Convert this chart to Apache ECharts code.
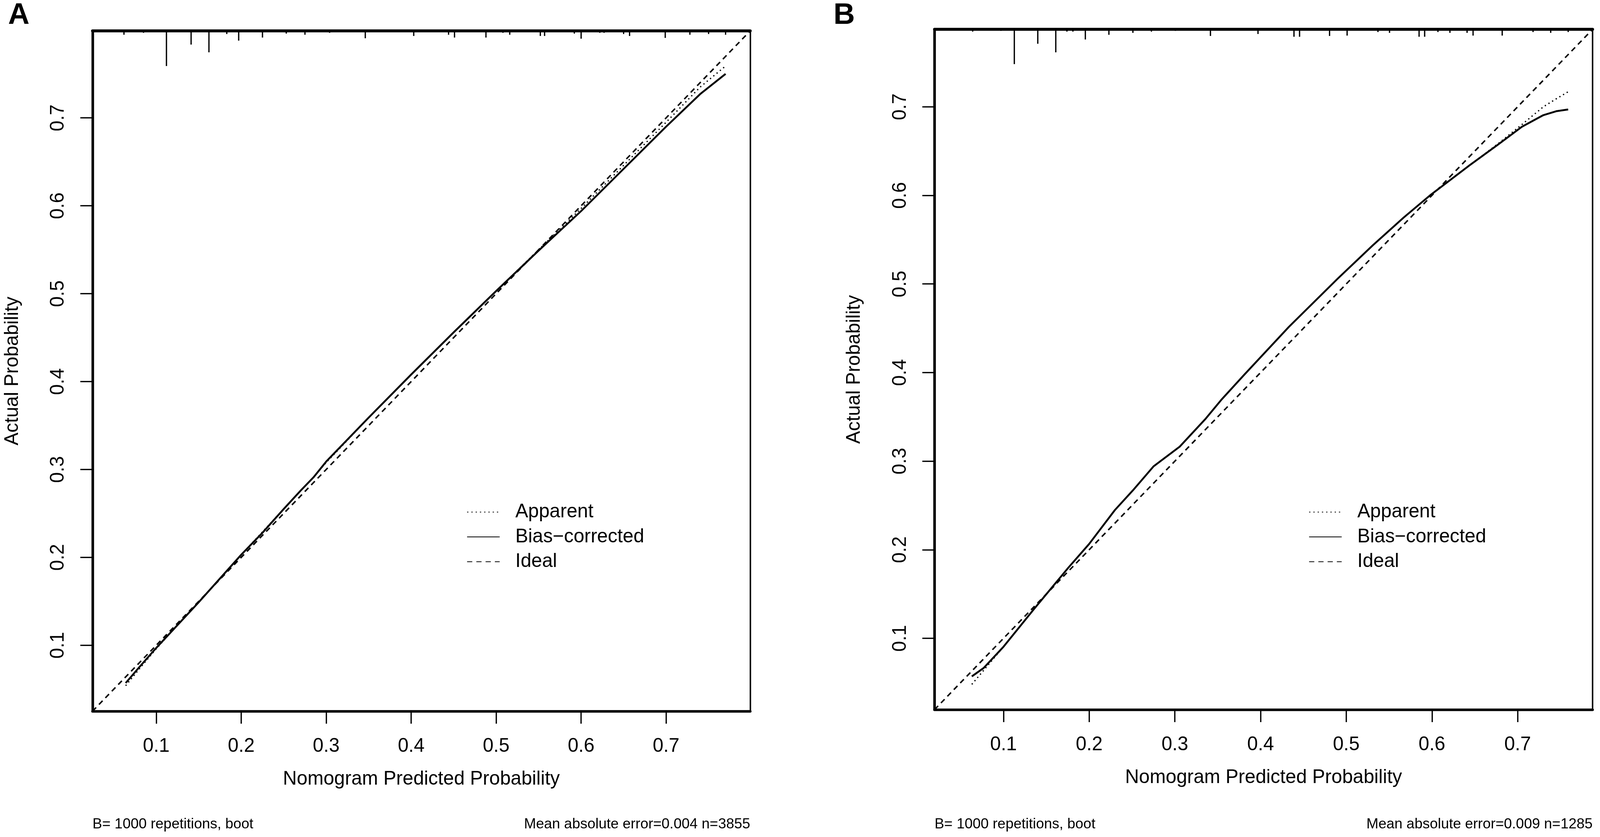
<!DOCTYPE html>
<html>
<head>
<meta charset="utf-8">
<script src="https://cdn.jsdelivr.net/npm/echarts@6/dist/echarts.min.js"></script>
<style>
html,body{margin:0;padding:0;background:#fff;overflow:hidden;}
#chart{position:absolute;left:0;top:0;}
</style>
</head>
<body>
<div id="chart"></div>
<script>
// ---------- data ----------
const tickValues = [0.1, 0.2, 0.3, 0.4, 0.5, 0.6, 0.7];
const rangeA = [0.025, 0.799];
const rangeB = [0.0195, 0.7875];

const legendNames = ['Apparent', 'Bias\u2212corrected', 'Ideal'];

// Panel A
const predA = [0.064, 0.08, 0.10, 0.125, 0.15, 0.175, 0.20, 0.225, 0.25, 0.27, 0.285, 0.30, 0.31, 0.35, 0.40, 0.45, 0.50, 0.55, 0.60, 0.65, 0.70, 0.74, 0.77];
const biasA = [0.057, 0.075, 0.097, 0.123, 0.149, 0.176, 0.203, 0.228, 0.255, 0.276, 0.291, 0.309, 0.319, 0.359, 0.408, 0.456, 0.503, 0.549, 0.594, 0.642, 0.690, 0.727, 0.750];
const apparentA = [0.054, 0.073, 0.096, 0.123, 0.149, 0.176, 0.203, 0.229, 0.255, 0.276, 0.291, 0.308, 0.318, 0.359, 0.408, 0.456, 0.503, 0.550, 0.597, 0.646, 0.695, 0.735, 0.759];
const rugXA = [0.062, 0.085, 0.112, 0.141, 0.162, 0.183, 0.197, 0.225, 0.253, 0.275, 0.304, 0.346, 0.403, 0.444, 0.451, 0.488, 0.508, 0.516, 0.552, 0.557, 0.592, 0.600, 0.622, 0.627, 0.650, 0.657, 0.699, 0.728, 0.750, 0.770];
const rugLenA = [0.0044, 0.0022, 0.040, 0.0156, 0.0244, 0.0036, 0.0111, 0.0076, 0.0031, 0.0044, 0.0022, 0.0084, 0.0058, 0.0044, 0.0076, 0.0076, 0.0022, 0.0044, 0.0058, 0.0058, 0.0031, 0.0089, 0.0022, 0.0022, 0.0036, 0.0058, 0.008, 0.0044, 0.0036, 0.0044];

// Panel B
const predB = [0.063, 0.077, 0.10, 0.136, 0.1755, 0.20, 0.23, 0.251, 0.275, 0.29, 0.3056, 0.336, 0.354, 0.381, 0.433, 0.49, 0.531, 0.567, 0.599, 0.644, 0.678, 0.705, 0.73, 0.745, 0.759];
const biasB = [0.057, 0.0666, 0.0905, 0.1335, 0.1795, 0.2066, 0.2448, 0.267, 0.294, 0.305, 0.3163, 0.348, 0.369, 0.3976, 0.4515, 0.506, 0.5437, 0.575, 0.601, 0.634, 0.658, 0.6775, 0.6906, 0.695, 0.697];
const apparentB = [0.048, 0.064, 0.0905, 0.1335, 0.1795, 0.2066, 0.2448, 0.267, 0.294, 0.305, 0.3163, 0.348, 0.369, 0.3976, 0.4515, 0.506, 0.5437, 0.575, 0.601, 0.634, 0.659, 0.680, 0.700, 0.709, 0.717];
const rugXB = [0.064, 0.097, 0.1126, 0.140, 0.161, 0.174, 0.181, 0.1955, 0.223, 0.251, 0.2726, 0.3006, 0.3415, 0.397, 0.439, 0.4455, 0.4805, 0.501, 0.537, 0.5505, 0.585, 0.5915, 0.607, 0.621, 0.641, 0.648, 0.682, 0.718, 0.7386, 0.759];
const rugLenB = [0.0026, 0.0018, 0.0393, 0.0163, 0.026, 0.0026, 0.0026, 0.0115, 0.0062, 0.004, 0.0026, 0.0018, 0.0075, 0.0053, 0.0084, 0.0084, 0.0075, 0.0071, 0.0031, 0.004, 0.0084, 0.0084, 0.0031, 0.004, 0.004, 0.0071, 0.0071, 0.0031, 0.004, 0.0031];

const footLeft = 'B= 1000 repetitions, boot';
const footRightA = 'Mean absolute error=0.004 n=3855';
const footRightB = 'Mean absolute error=0.009 n=1285';

// ---------- layout (designed for 4323x2142, scaled to the real viewport) ----------
const BASE_W = 4323, BASE_H = 2142;
const VW = window.innerWidth || BASE_W, VH = window.innerHeight || BASE_H;
const KX = VW / BASE_W, KY = VH / BASE_H, K = Math.min(KX, KY);
const sx = v => v * KX, sy = v => v * KY, sk = v => v * K;

const FONT = '"Liberation Sans", Arial, Helvetica, sans-serif';
const zip = (xs, ys) => xs.map((x, i) => [x, ys[i]]);

const grids = [
  {left: sx(250), top: sy(79), width: sx(1777), height: sy(1741)},
  {left: sx(2525), top: sy(75), width: sx(1778), height: sy(1741)}
];
const ranges = [rangeA, rangeB];

const xAxes = [], yAxes = [];
ranges.forEach((r, gi) => {
  xAxes.push({
    type: 'value', gridIndex: gi, min: r[0], max: r[1], position: 'bottom',
    axisLine: {show: true, onZero: false, lineStyle: {color: '#000', width: sk(7)}},
    axisTick: {show: true, customValues: tickValues, length: sy(32), lineStyle: {color: '#000', width: sk(3.5)}},
    axisLabel: {show: true, customValues: tickValues, margin: sy(66), fontSize: sk(52), color: '#000', fontFamily: FONT,
      formatter: v => Number(v).toFixed(1)},
    splitLine: {show: false},
    name: 'Nomogram Predicted Probability', nameLocation: 'middle', nameGap: sy(150),
    nameTextStyle: {fontSize: sk(52), color: '#000', fontFamily: FONT}
  });
  xAxes.push({
    type: 'value', gridIndex: gi, min: r[0], max: r[1], position: 'top',
    axisLine: {show: true, onZero: false, lineStyle: {color: '#000', width: sk(8)}},
    axisTick: {show: false}, axisLabel: {show: false}, splitLine: {show: false}
  });
  yAxes.push({
    type: 'value', gridIndex: gi, min: r[0], max: r[1], position: 'left',
    axisLine: {show: true, onZero: false, lineStyle: {color: '#000', width: sk(7)}},
    axisTick: {show: true, customValues: tickValues, length: sx(33), lineStyle: {color: '#000', width: sk(3.5)}},
    axisLabel: {show: true, customValues: tickValues, rotate: 90, margin: sx(66), fontSize: sk(52), color: '#000', fontFamily: FONT,
      formatter: v => Number(v).toFixed(1)},
    splitLine: {show: false},
    name: 'Actual Probability', nameLocation: 'middle', nameRotate: 90, nameGap: sx(190),
    nameTextStyle: {fontSize: sk(52), color: '#000', fontFamily: FONT}
  });
  yAxes.push({
    type: 'value', gridIndex: gi, min: r[0], max: r[1], position: 'right',
    axisLine: {show: true, onZero: false, lineStyle: {color: '#000', width: sk(4)}},
    axisTick: {show: false}, axisLabel: {show: false}, splitLine: {show: false}
  });
});

function rugSeries(xs, lens, gi, yMax) {
  return {
    type: 'custom', xAxisIndex: gi * 2, yAxisIndex: gi * 2, silent: true,
    data: zip(xs, lens),
    renderItem: (params, api) => {
      const x = api.value(0), len = api.value(1);
      const p1 = api.coord([x, yMax]);
      const p2 = api.coord([x, yMax - len]);
      return {type: 'line', shape: {x1: p1[0], y1: p1[1], x2: p2[0], y2: p2[1]},
        style: {stroke: '#000', lineWidth: sk(3.5)}};
    }
  };
}

function panelSeries(pred, app, bias, r, gi) {
  const common = {type: 'line', xAxisIndex: gi * 2, yAxisIndex: gi * 2, showSymbol: false, symbol: 'none',
    smooth: false, silent: true, itemStyle: {color: '#000'}};
  return [
    Object.assign({}, common, {name: legendNames[0], data: zip(pred, app),
      lineStyle: {color: '#000', width: sk(3.5), type: [sk(3.5), sk(8)]}}),
    Object.assign({}, common, {name: legendNames[1], data: zip(pred, bias),
      lineStyle: {color: '#000', width: sk(5), type: 'solid', join: 'round'}}),
    Object.assign({}, common, {name: legendNames[2], data: [[r[0], r[0]], [r[1], r[1]]],
      lineStyle: {color: '#000', width: sk(4), type: [sk(14), sk(11)]}}),
    rugSeries(gi === 0 ? rugXA : rugXB, gi === 0 ? rugLenA : rugLenB, gi, r[1])
  ];
}

const series = [].concat(
  panelSeries(predA, apparentA, biasA, rangeA, 0),
  panelSeries(predB, apparentB, biasB, rangeB, 1)
);

const legends = [1261, 3536].map(lx => ({
  data: legendNames, orient: 'vertical', left: sx(lx), top: sy(1286), padding: 0,
  itemWidth: sx(88), itemHeight: sy(20), itemGap: sy(14.5), selectedMode: false,
  itemStyle: {opacity: 0, borderWidth: 0},
  textStyle: {fontSize: sk(52), color: '#000', fontFamily: FONT, padding: [0, 0, 0, sx(37)]}
}));

const texts = [
  {type: 'text', left: sx(22), top: sy(2), style: {text: 'A', fill: '#000', font: 'bold ' + sk(80) + 'px ' + FONT}},
  {type: 'text', left: sx(2252), top: sy(2), style: {text: 'B', fill: '#000', font: 'bold ' + sk(80) + 'px ' + FONT}},
  {type: 'text', x: sx(250), y: sy(2110), style: {text: footLeft, fill: '#000', font: sk(39) + 'px ' + FONT, textAlign: 'left', textVerticalAlign: 'middle'}},
  {type: 'text', x: sx(2027), y: sy(2110), style: {text: footRightA, fill: '#000', font: sk(39) + 'px ' + FONT, textAlign: 'right', textVerticalAlign: 'middle'}},
  {type: 'text', x: sx(2525), y: sy(2110), style: {text: footLeft, fill: '#000', font: sk(39) + 'px ' + FONT, textAlign: 'left', textVerticalAlign: 'middle'}},
  {type: 'text', x: sx(4303), y: sy(2110), style: {text: footRightB, fill: '#000', font: sk(39) + 'px ' + FONT, textAlign: 'right', textVerticalAlign: 'middle'}}
];

const el = document.getElementById('chart');
el.style.width = VW + 'px';
el.style.height = VH + 'px';
const chart = echarts.init(el, null, {renderer: 'canvas', width: VW, height: VH});
chart.setOption({
  animation: false,
  backgroundColor: '#fff',
  textStyle: {fontFamily: FONT},
  grid: grids,
  xAxis: xAxes,
  yAxis: yAxes,
  legend: legends,
  series: series,
  graphic: texts
});
</script>
</body>
</html>
